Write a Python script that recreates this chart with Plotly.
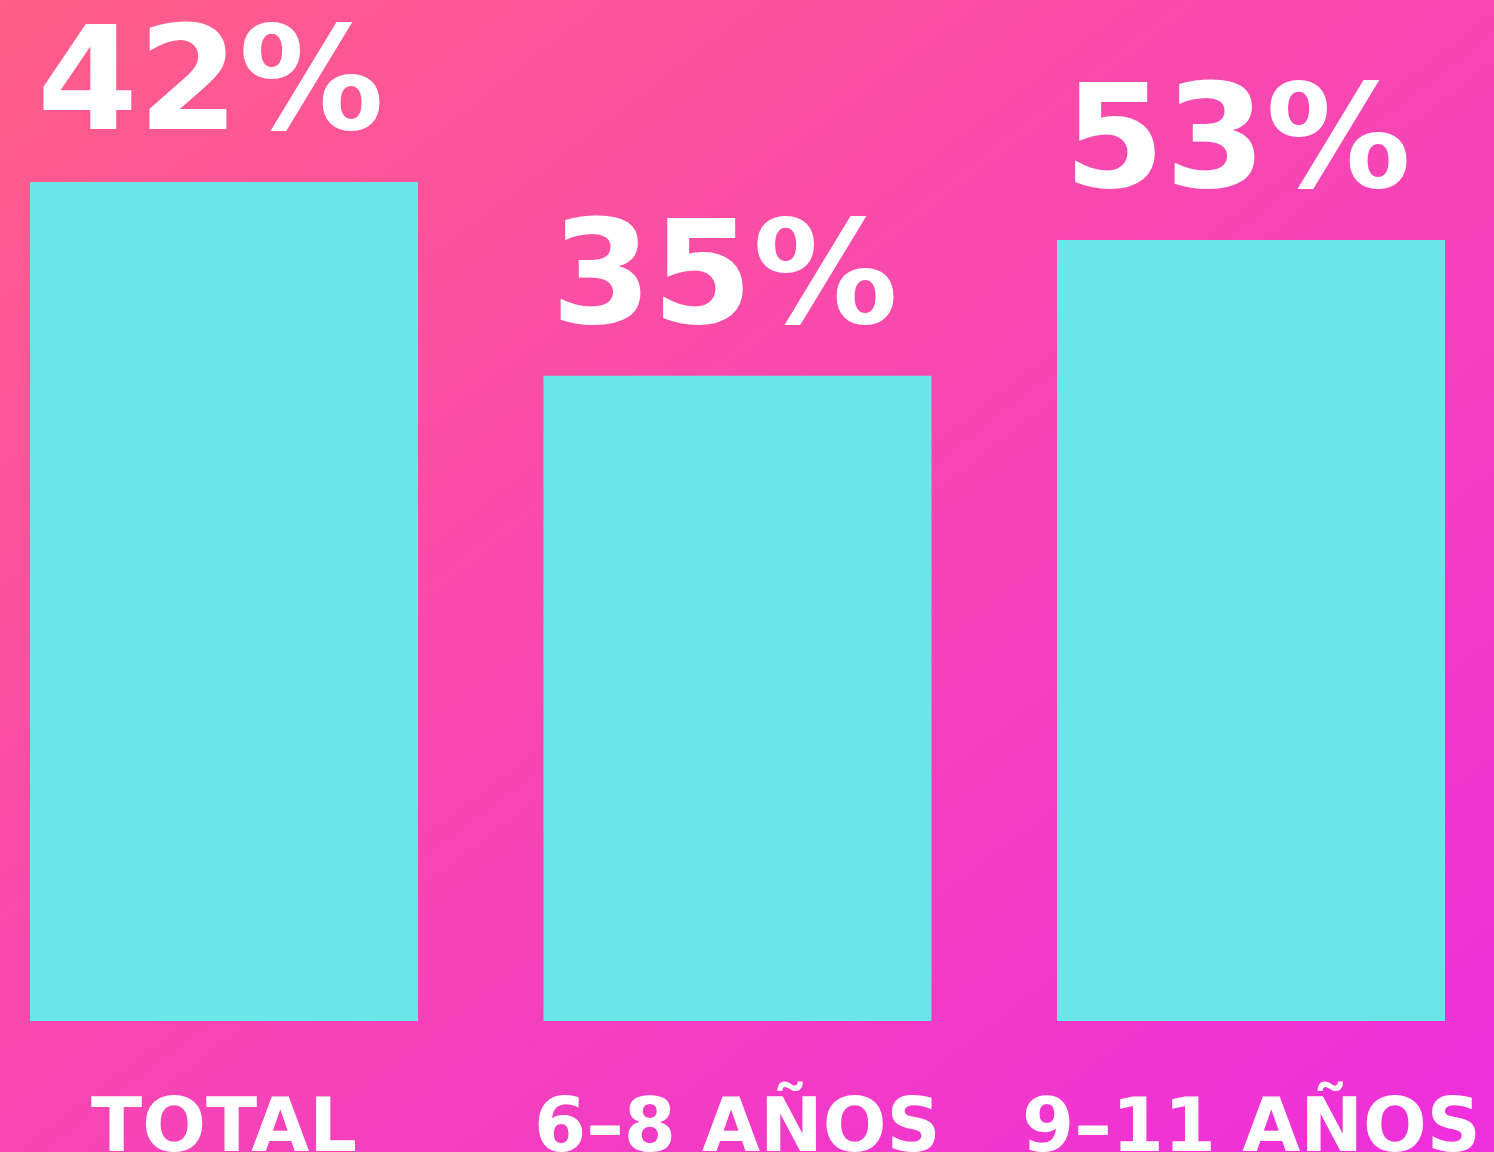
import base64
import plotly.graph_objects as go

categories = ["TOTAL", "6–8 AÑOS", "9–11 AÑOS"]
value_labels = ["42%", "35%", "53%"]
# bar heights as drawn in the picture (in % units relative to the 42% bar)
bar_heights = [42.0, 32.3, 39.1]

W, H = 1494, 1152
BAR_COLOR = "#6CE5E8"
FONT = "DejaVu Sans"

svg = (
    f"<svg xmlns='http://www.w3.org/2000/svg' width='{W}' height='{H}' preserveAspectRatio='none'>"
    "<defs><linearGradient id='g' x1='0' y1='0' x2='1' y2='1'>"
    "<stop offset='0' stop-color='#FF5E88'/><stop offset='1' stop-color='#EE2EDD'/>"
    "</linearGradient></defs><rect width='100%' height='100%' fill='url(#g)'/></svg>"
)
bg = "data:image/svg+xml;base64," + base64.b64encode(svg.encode()).decode()

fig = go.Figure(
    go.Bar(
        x=categories,
        y=bar_heights,
        width=0.7556,
        marker=dict(color=BAR_COLOR, line=dict(width=0)),
        hoverinfo="skip",
    )
)

bottom = 131
plot_h = H - bottom
ymax = 42 * plot_h / 839.0

annotations = []
for c, lab, h in zip(categories, value_labels, bar_heights):
    annotations.append(dict(
        x=c, y=h, xref="x", yref="y", text=lab, showarrow=False,
        xanchor="left", yanchor="bottom", xshift=-189, yshift=17,
        font=dict(family=FONT, size=145, color="white", weight=700),
    ))
    annotations.append(dict(
        x=c, y=0, xref="x", yref="y", text=c, showarrow=False,
        xanchor="center", yanchor="top", yshift=-58,
        font=dict(family=FONT, size=75, color="white", weight=700),
    ))

fig.update_layout(
    width=W, height=H,
    margin=dict(l=0, r=0, t=0, b=bottom, pad=0),
    paper_bgcolor="#F646B2",
    plot_bgcolor="rgba(0,0,0,0)",
    showlegend=False,
    xaxis=dict(range=[-224 / 513.5, (W - 224) / 513.5], showticklabels=False,
               showgrid=False, zeroline=False, showline=False, ticks=""),
    yaxis=dict(range=[0, ymax], showticklabels=False, showgrid=False,
               zeroline=False, showline=False, ticks=""),
    annotations=annotations,
    images=[dict(source=bg, xref="paper", yref="paper", x=0, y=1,
                 sizex=1, sizey=H / plot_h, xanchor="left", yanchor="top",
                 sizing="stretch", layer="below")],
)

fig.write_html(
    "out.html",
    config={"displayModeBar": False},
    post_script="document.body.style.margin='0';document.body.style.overflow='hidden';",
)
